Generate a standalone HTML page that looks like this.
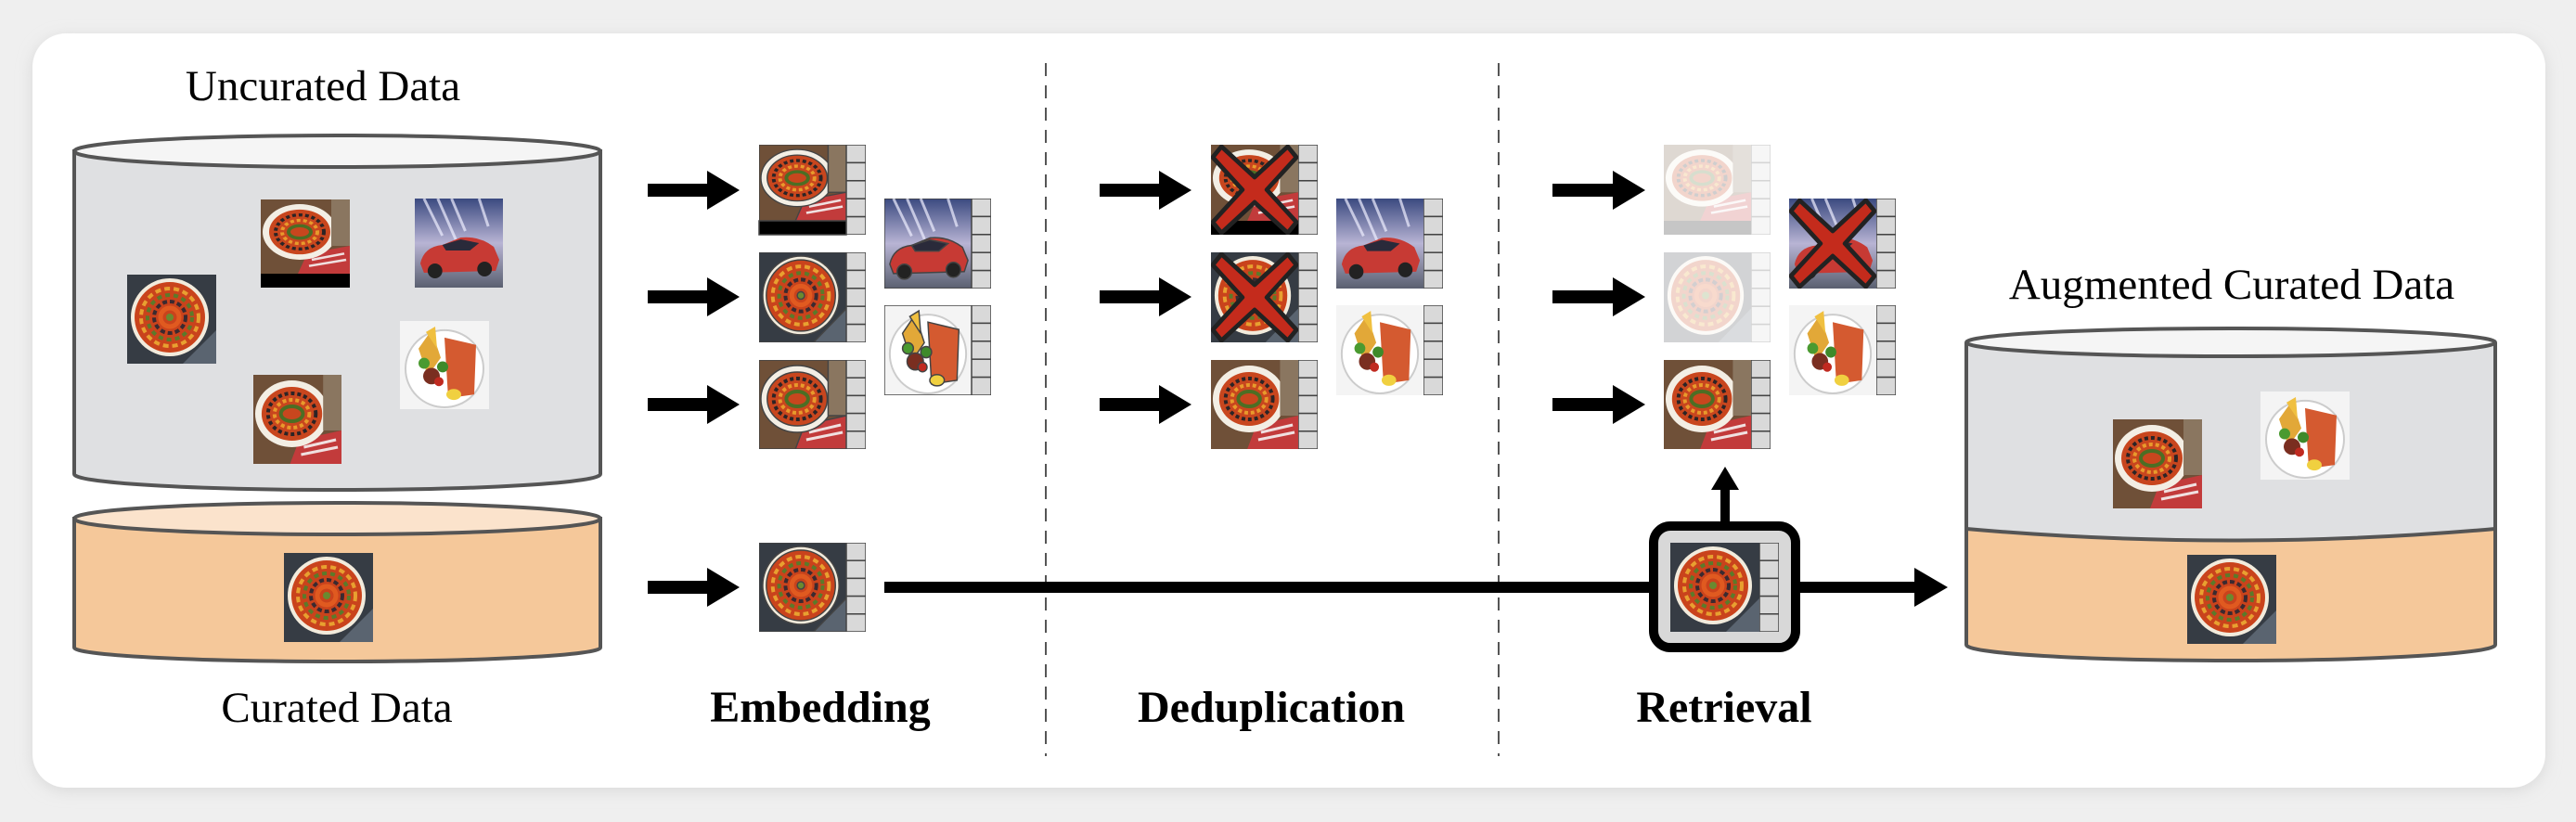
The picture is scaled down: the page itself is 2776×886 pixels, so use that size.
<!DOCTYPE html>
<html><head><meta charset="utf-8"><style>
html,body{margin:0;padding:0;background:#efefef;}
svg{display:block;}
text{font-family:"Liberation Serif",serif;fill:#000;}
</style></head><body>
<svg width="2776" height="886" viewBox="0 0 2776 886" xmlns="http://www.w3.org/2000/svg" xmlns:xlink="http://www.w3.org/1999/xlink">
<defs>
<filter id="sh" x="-5%" y="-5%" width="110%" height="110%"><feGaussianBlur stdDeviation="8"/></filter>
<symbol id="tart" viewBox="0 0 96 96" preserveAspectRatio="none">
<rect width="96" height="96" fill="#363c44"/>
<path d="M60 96 L96 60 L96 96Z" fill="#5a6470"/>
<circle cx="46" cy="46" r="42" fill="#f2ebdc"/>
<circle cx="46" cy="46" r="38" fill="#c9431c"/>
<circle cx="46" cy="46" r="31" fill="none" stroke="#e8a030" stroke-width="4" stroke-dasharray="6 4"/>
<circle cx="46" cy="46" r="24" fill="none" stroke="#5b7a2a" stroke-width="4" stroke-dasharray="5 4"/>
<circle cx="46" cy="46" r="17" fill="none" stroke="#3a2a30" stroke-width="4" stroke-dasharray="5 3"/>
<circle cx="46" cy="46" r="10" fill="none" stroke="#e05a20" stroke-width="5"/>
<circle cx="46" cy="46" r="4" fill="#6a8a30"/>
</symbol>
<symbol id="dish" viewBox="0 0 96 96" preserveAspectRatio="none">
<rect width="96" height="96" fill="#6f5038"/>
<path d="M50 70 L96 60 L96 96 L40 96Z" fill="#c23b3b"/>
<path d="M55 78 L90 70 M52 86 L92 78" stroke="#f0e0e0" stroke-width="3"/>
<ellipse cx="42" cy="42" rx="40" ry="36" fill="#f3eee4"/>
<ellipse cx="42" cy="42" rx="33" ry="29" fill="#c8461e"/>
<ellipse cx="42" cy="42" rx="26" ry="22" fill="none" stroke="#2b2426" stroke-width="4" stroke-dasharray="4 3"/>
<ellipse cx="42" cy="42" rx="19" ry="15" fill="none" stroke="#e89a2c" stroke-width="4" stroke-dasharray="4 3"/>
<ellipse cx="42" cy="42" rx="12" ry="8" fill="none" stroke="#4c6e24" stroke-width="4"/>
<rect x="76" y="0" width="20" height="60" fill="#8a7660"/>
</symbol>
<symbol id="car" viewBox="0 0 96 96" preserveAspectRatio="none">
<linearGradient id="cg" x1="0" y1="0" x2="0" y2="1"><stop offset="0" stop-color="#3b4a80"/><stop offset="0.5" stop-color="#b8b4d4"/><stop offset="1" stop-color="#5a6070"/></linearGradient>
<rect width="96" height="96" fill="url(#cg)"/>
<path d="M10 0 L30 40 M40 0 L55 35 M70 0 L80 30 M25 0 L45 45" stroke="#eef" stroke-width="3" opacity="0.7"/>
<path d="M6 70 Q10 52 30 50 L50 42 Q70 40 86 52 L92 66 L88 78 L10 80Z" fill="#c73a34"/>
<path d="M30 50 L50 44 L70 48 L60 56 L34 56Z" fill="#2a2a3a"/>
<circle cx="22" cy="78" r="8" fill="#222"/><circle cx="76" cy="76" r="8" fill="#222"/>
</symbol>
<symbol id="plate" viewBox="0 0 96 96" preserveAspectRatio="none">
<rect width="96" height="96" fill="#f4f4f4"/>
<circle cx="48" cy="52" r="42" fill="#fff" stroke="#ccc" stroke-width="2"/>
<path d="M48 18 L82 26 L80 80 L52 84Z" fill="#d45a30"/>
<path d="M20 30 L34 10 L44 40 L30 60Z" fill="#e2a838"/>
<path d="M28 12 L38 6 L40 30Z" fill="#f0c040"/>
<circle cx="34" cy="60" r="9" fill="#7a2e20"/>
<circle cx="46" cy="50" r="6" fill="#3e8a2a"/>
<circle cx="26" cy="46" r="6" fill="#4a9a30"/>
<circle cx="42" cy="66" r="5" fill="#c02a20"/>
<ellipse cx="58" cy="80" rx="8" ry="6" fill="#f0d040"/>
</symbol>
<symbol id="strip" viewBox="0 0 21 97" preserveAspectRatio="none">
<rect x="0" y="0" width="21" height="19.4" fill="#d9d9d9" stroke="#444" stroke-width="1.5"/>
<rect x="0" y="19.4" width="21" height="19.4" fill="#d9d9d9" stroke="#444" stroke-width="1.5"/>
<rect x="0" y="38.8" width="21" height="19.4" fill="#d9d9d9" stroke="#444" stroke-width="1.5"/>
<rect x="0" y="58.2" width="21" height="19.4" fill="#d9d9d9" stroke="#444" stroke-width="1.5"/>
<rect x="0" y="77.6" width="21" height="19.4" fill="#d9d9d9" stroke="#444" stroke-width="1.5"/>
</symbol>
<symbol id="xx" viewBox="0 0 100 100" preserveAspectRatio="none">
<polygon points="12,2 50,36 88,2 98,14 64,50 98,86 88,98 50,64 12,98 2,86 36,50 2,14" fill="#c42b1c" stroke="#222" stroke-width="5" stroke-linejoin="round"/>
</symbol>
</defs>

<rect x="35" y="40" width="2708" height="812" rx="36" fill="#d8d8d8" filter="url(#sh)"/>
<rect x="35" y="36" width="2708" height="813" rx="36" fill="#fff"/>

<line x1="1127" y1="68" x2="1127" y2="815" stroke="#555" stroke-width="2" stroke-dasharray="14 10"/>
<line x1="1615" y1="68" x2="1615" y2="815" stroke="#555" stroke-width="2" stroke-dasharray="14 10"/>

<text x="348" y="108" font-size="47" text-anchor="middle">Uncurated Data</text>
<path d="M80 163 L80 511 A283 17 0 0 0 647 511 L647 163Z" fill="#dfe0e2" stroke="#555" stroke-width="4"/>
<ellipse cx="363.5" cy="163" rx="283.5" ry="17" fill="#f5f5f5" stroke="#555" stroke-width="4"/>
<use href="#tart" x="137" y="296" width="96" height="96"/>
<use href="#dish" x="281" y="215" width="96" height="80"/>
<rect x="281" y="295" width="96" height="15" fill="#000"/>
<use href="#car" x="447" y="214" width="95" height="96"/>
<use href="#plate" x="431" y="346" width="96" height="95"/>
<use href="#dish" x="273" y="404" width="95" height="96"/>

<path d="M80 559 L80 698 A283 15 0 0 0 647 698 L647 559Z" fill="#f5c89a" stroke="#555" stroke-width="4"/>
<ellipse cx="363.5" cy="559" rx="283.5" ry="17" fill="#fbe3cc" stroke="#555" stroke-width="4"/>
<use href="#tart" x="306" y="596" width="96" height="96"/>
<text x="363" y="778" font-size="47" text-anchor="middle">Curated Data</text>

<g fill="#000">
<polygon points="698,198 762,198 762,184 797,205 762,226 762,212 698,212"/>
<polygon points="698,313 762,313 762,299 797,320 762,341 762,327 698,327"/>
<polygon points="698,429 762,429 762,415 797,436 762,457 762,443 698,443"/>
<polygon points="698,626 762,626 762,612 797,633 762,654 762,640 698,640"/>
<polygon points="1185,198 1249,198 1249,184 1284,205 1249,226 1249,212 1185,212"/>
<polygon points="1185,313 1249,313 1249,299 1284,320 1249,341 1249,327 1185,327"/>
<polygon points="1185,429 1249,429 1249,415 1284,436 1249,457 1249,443 1185,443"/>
<polygon points="1673,198 1738,198 1738,184 1773,205 1738,226 1738,212 1673,212"/>
<polygon points="1673,313 1738,313 1738,299 1773,320 1738,341 1738,327 1673,327"/>
<polygon points="1673,429 1738,429 1738,415 1773,436 1738,457 1738,443 1673,443"/>
</g>
<rect x="953" y="627" width="830" height="12" fill="#000"/>
<rect x="1940" y="627" width="125" height="12" fill="#000"/>
<polygon points="2063,612 2099,633 2063,654" fill="#000"/>
<rect x="1854" y="525" width="10" height="40" fill="#000"/>
<polygon points="1844,528 1859,503 1874,528" fill="#000"/>

<g stroke="#444" stroke-width="1.5">
<use href="#dish" x="818" y="156" width="94" height="82"/><rect x="818" y="238" width="94" height="15" fill="#000"/>
<use href="#strip" x="912" y="156" width="21" height="97"/>
<use href="#tart" x="818" y="272" width="94" height="97"/><use href="#strip" x="912" y="272" width="21" height="97"/>
<use href="#dish" x="818" y="388" width="94" height="96"/><use href="#strip" x="912" y="388" width="21" height="96"/>
<use href="#car" x="953" y="214" width="94" height="97"/><use href="#strip" x="1047" y="214" width="21" height="97"/>
<use href="#plate" x="953" y="329" width="94" height="97"/><use href="#strip" x="1047" y="329" width="21" height="97"/>
<use href="#tart" x="818" y="585" width="94" height="96"/><use href="#strip" x="912" y="585" width="21" height="96"/>
</g>
<text x="884" y="778" font-size="48" font-weight="bold" text-anchor="middle">Embedding</text>

<use href="#dish" x="1305" y="156" width="94" height="82"/><rect x="1305" y="238" width="94" height="15" fill="#000"/>
<use href="#strip" x="1399" y="156" width="21" height="97"/>
<use href="#xx" x="1305" y="156" width="94" height="97"/>
<use href="#tart" x="1305" y="272" width="94" height="97"/><use href="#strip" x="1399" y="272" width="21" height="97"/>
<use href="#xx" x="1305" y="272" width="94" height="97"/>
<use href="#dish" x="1305" y="388" width="94" height="96"/><use href="#strip" x="1399" y="388" width="21" height="96"/>
<use href="#car" x="1440" y="214" width="94" height="97"/><use href="#strip" x="1534" y="214" width="21" height="97"/>
<use href="#plate" x="1440" y="329" width="94" height="97"/><use href="#strip" x="1534" y="329" width="21" height="97"/>
<text x="1370" y="778" font-size="48" font-weight="bold" text-anchor="middle">Deduplication</text>

<g opacity="0.22">
<use href="#dish" x="1793" y="156" width="94" height="82"/><rect x="1793" y="238" width="94" height="15" fill="#000"/>
<use href="#strip" x="1887" y="156" width="21" height="97"/>
<use href="#tart" x="1793" y="272" width="94" height="97"/><use href="#strip" x="1887" y="272" width="21" height="97"/>
</g>
<use href="#dish" x="1793" y="388" width="94" height="96"/><use href="#strip" x="1887" y="388" width="21" height="96"/>
<use href="#car" x="1928" y="214" width="94" height="97"/><use href="#strip" x="2022" y="214" width="21" height="97"/>
<use href="#xx" x="1928" y="214" width="94" height="97"/>
<use href="#plate" x="1928" y="329" width="94" height="97"/><use href="#strip" x="2022" y="329" width="21" height="97"/>

<rect x="1782" y="567" width="153" height="131" rx="18" fill="#d8d8d8" stroke="#000" stroke-width="10"/>
<use href="#tart" x="1800" y="585" width="96" height="96"/><use href="#strip" x="1896" y="585" width="21" height="96"/>
<text x="1858" y="778" font-size="48" font-weight="bold" text-anchor="middle">Retrieval</text>

<text x="2405" y="322" font-size="47" text-anchor="middle">Augmented Curated Data</text>
<path d="M2119 369 L2119 695 A285 17 0 0 0 2689 695 L2689 369Z" fill="#f5c89a"/>
<path d="M2119 369 L2119 570 Q2404 595 2689 570 L2689 369Z" fill="#dfe0e2"/>
<path d="M2119 570 Q2404 595 2689 570" fill="none" stroke="#555" stroke-width="4"/>
<path d="M2119 369 L2119 695 A285 17 0 0 0 2689 695 L2689 369" fill="none" stroke="#555" stroke-width="4"/>
<ellipse cx="2404" cy="369" rx="285" ry="15" fill="#f5f5f5" stroke="#555" stroke-width="4"/>
<use href="#dish" x="2277" y="452" width="96" height="96"/>
<use href="#plate" x="2436" y="422" width="96" height="95"/>
<use href="#tart" x="2357" y="598" width="96" height="96"/>
</svg>
</body></html>
